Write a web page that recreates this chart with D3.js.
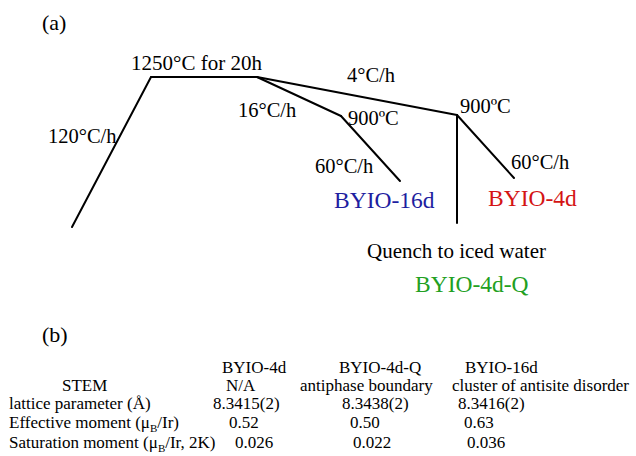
<!DOCTYPE html>
<html>
<head>
<meta charset="utf-8">
<script src="https://cdn.jsdelivr.net/npm/d3@7"></script>
<style>
  html, body { margin: 0; padding: 0; background: #fff; }
  svg { display: block; font-family: "Liberation Serif", "Times New Roman", serif; }
</style>
</head>
<body>
<svg id="fig" width="636" height="456"></svg>
<script>
// Heat-treatment schedule: steps in schematic time units and schematic height
const stepNames  = ["start", "soakStart", "soakEnd", "hold16d", "hold4d", "end16d", "end4d", "quenchEnd"];
const stepTime   = [0, 1.58, 3.7, 5.38, 7.7, 6.56, 8.84, 7.7];
const stepLevel  = [0, 150, 150, 111, 112, 46, 49, 4];
const segFrom    = ["start", "soakStart", "soakEnd", "soakEnd", "hold16d", "hold4d", "hold4d"];
const segTo      = ["soakStart", "soakEnd", "hold16d", "hold4d", "end16d", "end4d", "quenchEnd"];

// Sample table
const sampleNames = ["BYIO-4d", "BYIO-4d-Q", "BYIO-16d"];
const stemValues  = ["N/A", "antiphase boundary", "cluster of antisite disorder"];
const latticeValues = ["8.3415(2)", "8.3438(2)", "8.3416(2)"];
const effMoment   = ["0.52", "0.50", "0.63"];
const satMoment   = ["0.026", "0.022", "0.036"];

const svg = d3.select("#fig");
const x = d3.scaleLinear().domain([0, 10]).range([72, 572]);
const y = d3.scaleLinear().domain([0, 150]).range([227, 77]);
const idx = n => stepNames.indexOf(n);

// ---- panel (a): schedule ----
svg.append("text").attr("x", 42).attr("y", 30).attr("font-size", 22).text("(a)");

svg.append("g").selectAll("line")
  .data(segFrom.map((f, i) => [idx(f), idx(segTo[i])]))
  .join("line")
  .attr("x1", d => x(stepTime[d[0]])).attr("y1", d => y(stepLevel[d[0]]))
  .attr("x2", d => x(stepTime[d[1]])).attr("y2", d => y(stepLevel[d[1]]))
  .attr("stroke", "#000").attr("stroke-width", 2).attr("stroke-linecap", "round");

const notes = [
  {t: "1250°C for 20h", x: 131, y: 70, s: 21},
  {t: "120°C/h", x: 48, y: 143, s: 20.5},
  {t: "16°C/h", x: 238, y: 117, s: 20.5},
  {t: "4°C/h", x: 347, y: 82, s: 20.5},
  {t: "900ºC", x: 348, y: 125, s: 20.5},
  {t: "900ºC", x: 460, y: 113, s: 20.5},
  {t: "60°C/h", x: 315, y: 173, s: 20.5},
  {t: "60°C/h", x: 511, y: 169, s: 20.5},
  {t: "Quench to iced water", x: 367, y: 258, s: 21},
  {t: "BYIO-16d", x: 334, y: 208, s: 23.5, c: "#1e1ea0"},
  {t: "BYIO-4d", x: 488, y: 206, s: 23.5, c: "#d41414"},
  {t: "BYIO-4d-Q", x: 415, y: 292, s: 23.5, c: "#22a022"}
];
svg.append("g").selectAll("text").data(notes).join("text")
  .attr("x", d => d.x).attr("y", d => d.y)
  .attr("font-size", d => d.s).attr("fill", d => d.c || "#000")
  .text(d => d.t);

// ---- panel (b): table ----
svg.append("text").attr("x", 42).attr("y", 342).attr("font-size", 22).text("(b)");

const tbl = svg.append("g").attr("font-size", 17);
const headerX = [222, 339, 465];
tbl.selectAll("text.head").data(sampleNames).join("text").attr("class", "head")
  .attr("x", (d, i) => headerX[i]).attr("y", 373).text(d => d);

const rowY = [391, 409, 428, 448];
// row labels
tbl.append("text").attr("x", 62).attr("y", rowY[0]).text("STEM");
tbl.append("text").attr("x", 9).attr("y", rowY[1]).text("lattice parameter (Å)");
const eff = tbl.append("text").attr("x", 9).attr("y", rowY[2]);
eff.append("tspan").text("Effective moment (μ");
eff.append("tspan").attr("font-size", 11).attr("dy", 4).text("B");
eff.append("tspan").attr("dy", -4).text("/Ir)");
const sat = tbl.append("text").attr("x", 9).attr("y", rowY[3]);
sat.append("tspan").text("Saturation moment (μ");
sat.append("tspan").attr("font-size", 11).attr("dy", 4).text("B");
sat.append("tspan").attr("dy", -4).text("/Ir, 2K)");

const rows = [
  {vals: stemValues, xs: [226, 300, 452]},
  {vals: latticeValues, xs: [213, 342, 458]},
  {vals: effMoment, xs: [229, 350, 464]},
  {vals: satMoment, xs: [235, 353, 467]}
];
rows.forEach((r, ri) => {
  tbl.append("g").selectAll("text").data(r.vals).join("text")
    .attr("x", (d, i) => r.xs[i]).attr("y", rowY[ri]).text(d => d);
});
</script>
</body>
</html>
